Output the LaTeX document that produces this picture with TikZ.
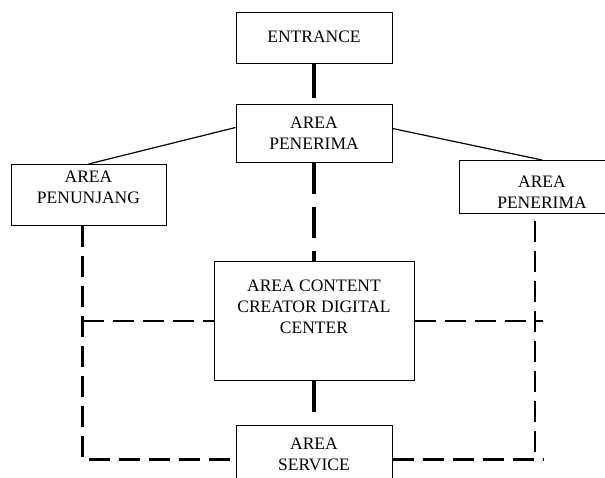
\documentclass[tikz,border=0pt]{standalone}
\usepackage{fontspec}
\setmainfont{Liberation Serif}
\usetikzlibrary{positioning}
\newcommand{\areatext}[4]{\parbox[c][#2][t]{#1}{\centering\vspace*{#3}#4}}
\tikzset{
x=1pt, y=-1pt, % one unit is one pixel, y runs downwards
area/.style={draw, line width=1pt, inner sep=0pt, font=\fontsize{17.5}{21}\selectfont}, % the boxes of the areas
mainlink/.style={line width=3.5pt}, % thick solid connections
centrelink/.style={line width=3.5pt, dash pattern=on 31pt off 13pt}, % thick dashed centre line
sidelink/.style={line width=1.2pt}, % thin slanted lines
looplink/.style={line width=2.6pt, dash pattern=on 21pt off 9pt}, % dashed outer circulation
}

\begin{document}
\begin{tikzpicture}
    \useasboundingbox (0,0) rectangle (605,477);
      \node[area, anchor=north] (entrance) at (314,12) {\areatext{156pt}{51pt}{18pt}{ENTRANCE}};
      \node[area, below=40pt of entrance] (penerima) {\areatext{156pt}{58pt}{12pt}{AREA\\PENERIMA}};
      \node[area, below left=1pt and 69pt of penerima] (penunjang) {\areatext{155pt}{61pt}{6pt}{AREA\\PENUNJANG}};
      \node[area, below right=-3pt and 66pt of penerima] (penerimadua) {\areatext{166pt}{53pt}{15pt}{AREA\\PENERIMA}};
      \node[area, below=98pt of penerima] (content) {\areatext{200pt}{119pt}{18pt}{AREA CONTENT\\CREATOR DIGITAL\\CENTER}};
      \node[area, below=44pt of content] (service) {\areatext{156pt}{68pt}{12pt}{AREA\\SERVICE}};
      \coordinate (pl) at ([xshift=-6pt]penunjang.south);
      \coordinate (pr) at ([xshift=-7pt, yshift=-7pt]penerimadua.south);
      \coordinate (prend) at ([xshift=9pt]service.east -| pr);
      \draw (entrance) edge[mainlink, shorten >=6pt] (penerima)
      (penerima) edge[centrelink] (content)
      (content) edge[mainlink, shorten >=13pt] (service)
      ([yshift=6pt]penerima.west) edge[sidelink] (penunjang.north)
      ([yshift=5pt]penerima.east) edge[sidelink] (penerimadua.north);
      \draw[looplink] (pl) |- (service.west);
      \draw[looplink, shorten >=6pt] (pr) -- (pr |- service.east);
      \draw[looplink] (service.east) -- (prend);
      \draw[looplink] (content.west -| pl) -- (content.west);
      \draw[looplink] (content.east) -- ([xshift=8pt]content.east -| pr);
    \end{tikzpicture}
\end{document}
